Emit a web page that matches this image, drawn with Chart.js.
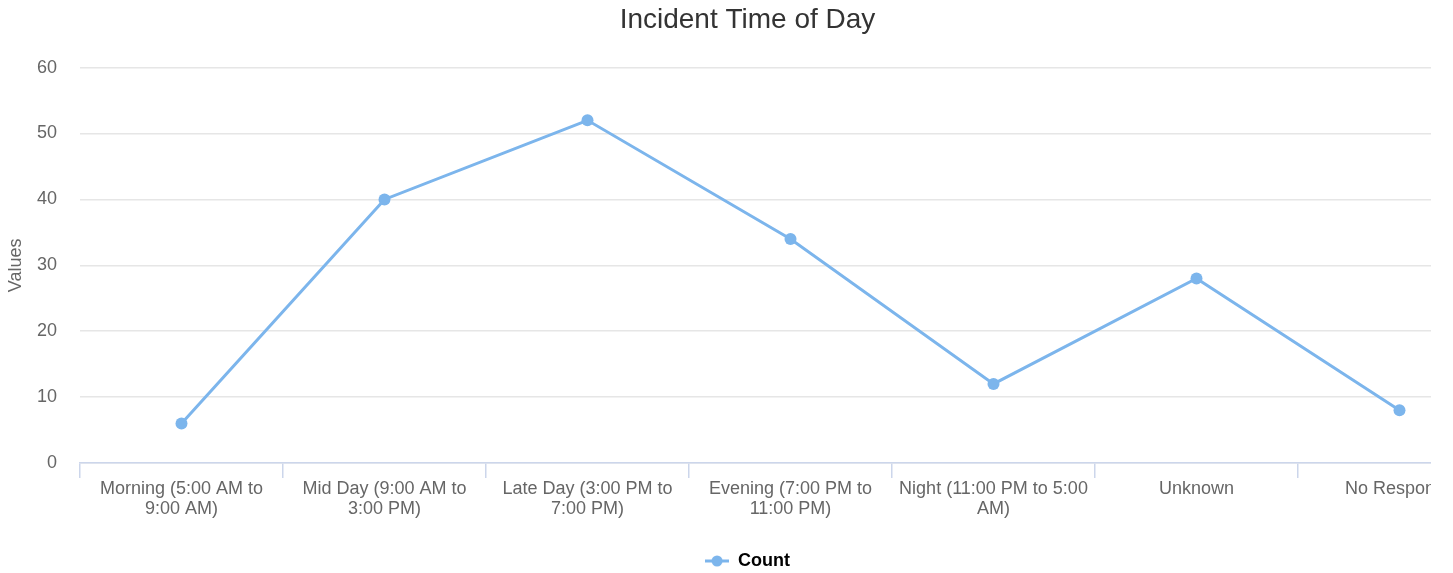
<!DOCTYPE html>
<html>
<head>
<meta charset="utf-8">
<title>Incident Time of Day</title>
<script src="https://cdn.jsdelivr.net/npm/chart.js@4.4.0/dist/chart.umd.min.js"></script>
<style>
    html, body { margin: 0; padding: 0; background: #fff; }
    #wrap { width: 1431px; height: 573px; overflow: hidden; }
</style>
</head>
<body>
<div id="wrap">
    <canvas id="chart" width="1501" height="573"></canvas>
</div>
<script>
// Chart data
const categories = [
    ['Morning (5:00 AM to', '9:00 AM)'],
    ['Mid Day (9:00 AM to', '3:00 PM)'],
    ['Late Day (3:00 PM to', '7:00 PM)'],
    ['Evening (7:00 PM to', '11:00 PM)'],
    ['Night (11:00 PM to 5:00', 'AM)'],
    'Unknown',
    'No Response'
];
const countValues = [6, 40, 52, 34, 12, 28, 8];
const yTicks = [0, 10, 20, 30, 40, 50, 60];

const FONT = '"Liberation Sans", Arial, Helvetica, sans-serif';
const LINE_COLOR = '#7cb5ec';

// Legend symbol: short line with a dot in the middle
function legendSymbol() {
    const c = document.createElement('canvas');
    c.width = 24;
    c.height = 12;
    const g = c.getContext('2d');
    g.strokeStyle = LINE_COLOR;
    g.lineWidth = 3;
    g.beginPath();
    g.moveTo(0, 6);
    g.lineTo(24, 6);
    g.stroke();
    g.fillStyle = LINE_COLOR;
    g.beginPath();
    g.arc(12, 6, 5.5, 0, Math.PI * 2);
    g.fill();
    return c;
}

const ctx = document.getElementById('chart').getContext('2d');
new Chart(ctx, {
    type: 'line',
    data: {
        labels: categories,
        datasets: [{
            label: 'Count',
            data: countValues,
            borderColor: LINE_COLOR,
            backgroundColor: LINE_COLOR,
            borderWidth: 3,
            pointRadius: 6,
            pointHoverRadius: 7,
            pointBorderWidth: 0,
            tension: 0,
            fill: false
        }]
    },
    options: {
        responsive: false,
        animation: false,
        layout: {
            autoPadding: false,
            padding: { top: 0, right: 0, bottom: -7, left: -6 }
        },
        plugins: {
            title: {
                display: true,
                text: 'Incident Time of Day',
                color: '#333333',
                font: { family: FONT, size: 28, weight: 'normal' },
                padding: { top: 3, bottom: 31 }
            },
            legend: {
                position: 'bottom',
                labels: {
                    usePointStyle: true,
                    pointStyleWidth: 24,
                    color: '#333333',
                    font: { family: FONT, size: 18, weight: 'bold' },
                    padding: 6,
                    generateLabels: (chart) => [{
                        text: 'Count',
                        pointStyle: legendSymbol(),
                        fillStyle: LINE_COLOR,
                        strokeStyle: LINE_COLOR,
                        lineWidth: 0,
                        datasetIndex: 0,
                        hidden: false
                    }]
                }
            },
            tooltip: { enabled: false }
        },
        scales: {
            x: {
                offset: true,
                afterFit: (scale) => { scale.height = 83; },
                grid: {
                    offset: true,
                    drawOnChartArea: false,
                    drawTicks: true,
                    tickLength: 15,
                    lineWidth: 1.5,
                    color: '#ccd6eb'
                },
                border: { display: true, color: '#ccd6eb', width: 1.5 },
                ticks: {
                    color: '#666666',
                    font: { family: FONT, size: 18, lineHeight: 1.13 },
                    maxRotation: 0,
                    autoSkip: false,
                    padding: 1
                }
            },
            y: {
                min: 0,
                max: 60,
                afterFit: (scale) => { scale.width = 86; },
                afterBuildTicks: (scale) => {
                    scale.ticks = yTicks.map(v => ({ value: v }));
                },
                grid: {
                    color: '#e6e6e6',
                    lineWidth: 1.5,
                    drawTicks: false
                },
                border: { display: false },
                ticks: {
                    color: '#666666',
                    font: { family: FONT, size: 18 },
                    padding: 23
                },
                title: {
                    display: true,
                    text: 'Values',
                    color: '#666666',
                    font: { family: FONT, size: 18 },
                    padding: { top: 11, bottom: 0 }
                }
            }
        }
    }
});
</script>
</body>
</html>
